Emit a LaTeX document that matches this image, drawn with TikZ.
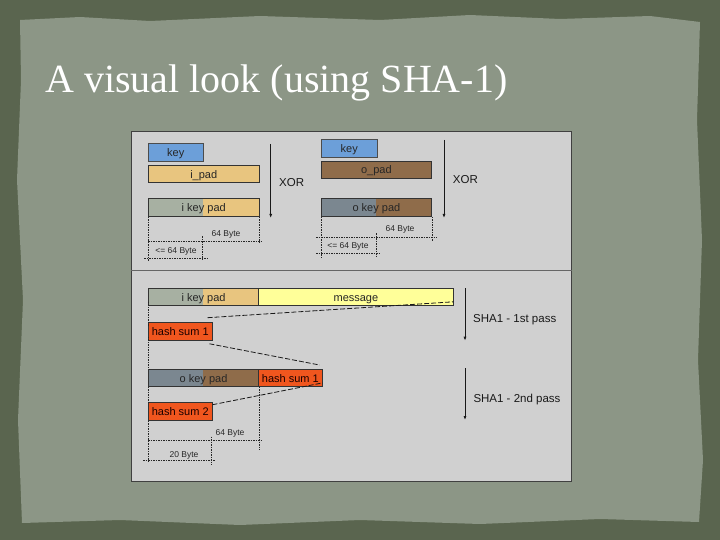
\documentclass[tikz,border=0pt]{standalone}
\usepackage{fontspec}
\setmainfont{Liberation Sans}
\newfontfamily\titlefont{Liberation Serif}
\usetikzlibrary{arrows.meta}
\definecolor{bgdark}{HTML}{5A654F}
\definecolor{paper}{HTML}{8C9686}
\definecolor{panel}{HTML}{D0D0D0}
\definecolor{keyblue}{HTML}{6C9FD9}
\definecolor{ipadtan}{HTML}{E8C57F}
\definecolor{opadbrown}{HTML}{8F6C4A}
\definecolor{ikgrey}{HTML}{A7B0A2}
\definecolor{okgrey}{HTML}{7B8790}
\definecolor{msgyellow}{HTML}{FFFF99}
\definecolor{hashred}{HTML}{F0561E}
\tikzset{
  box/.style={draw=black!80, line width=0.8pt, anchor=north west, inner sep=0pt,
    text height=8.5pt, text depth=0pt,
    font=\fontsize{11}{11}\selectfont, text=black!85},
  dimline/.style={draw=black!85, line width=0.6pt, dash pattern=on 1.5pt off 1pt},
  hashline/.style={draw=black!90, line width=0.8pt, dash pattern=on 5pt off 2pt},
  passarrow/.style={draw=black!90, line width=0.8pt, -{Latex[length=4pt,width=3pt]}},
  dimlabel/.style={font=\fontsize{8.5}{8.5}\selectfont, text=black!85, inner sep=0pt},
  sidelabel/.style={font=\fontsize{11.5}{11.5}\selectfont, text=black!90, inner sep=0pt, anchor=west},
}
\begin{document}
\begin{tikzpicture}[x=1pt,y=-1pt]
\useasboundingbox (0,0) rectangle (720,540);
% background
\fill[bgdark] (0,0) rectangle (720,540);
\fill[paper] (20,20) -- (80,17) -- (150,21) -- (260,16) -- (380,20) -- (470,15) -- (560,19) -- (650,16) -- (700,22)
  -- (697,120) -- (702,240) -- (698,360) -- (703,460) -- (699,522)
  -- (600,519) -- (480,524) -- (360,520) -- (240,525) -- (120,520) -- (22,523)
  -- (18,420) -- (23,300) -- (17,180) -- (21,80) -- cycle;
% title
\node[anchor=base west, inner sep=0pt, text=white, font=\titlefont\fontsize{40}{40}\selectfont] (title) at (45,93) {A visual look (using SHA-1)};
% panel
\node[draw=black!75, line width=1pt, fill=panel, anchor=north west, minimum width=440pt, minimum height=350pt, inner sep=0pt] (panel) at (131,131) {};
\draw[black!60, line width=1pt] (panel.west |- 0,270) coordinate (sepL) -- (panel.east |- 0,270) coordinate (sepR);

% ---- top left: inner key pad
\node[box, draw=black!70, fill=keyblue, minimum width=55.8pt, minimum height=17.4pt] (key1) at (147.5,143.3) {key};
\node[box, fill=ipadtan, minimum width=110.7pt, minimum height=17.3pt] (ipad) at (148,165) {i\_pad};
\node[box, fill=ipadtan, minimum width=110.7pt, minimum height=17.7pt,
  path picture={\fill[ikgrey] (path picture bounding box.south west) rectangle ([xshift=54.7pt]path picture bounding box.north west);}]
  (ikp1) at (148,198.3) {i key pad};
\coordinate (xa1) at (270.7,144);
\coordinate (xb1) at (270.7,218);
\draw[passarrow] (xa1) -- (xb1);
\node[sidelabel] (xor1) at (279,182.7) {XOR};
\draw[dimline] (ikp1.south west) -- ++(0,44);
\draw[dimline] (ikp1.south east) -- ++(0,27.3);
\draw[dimline] (202.7,236) coordinate (d1a) -- (202.7,260) coordinate (d1b);
\draw[dimline] (148,241) coordinate (d1c) -- (262,241) coordinate (d1d);
\draw[dimline] (144,258.3) coordinate (d1e) -- (207,258.3) coordinate (d1f);
\node[dimlabel] (l1a) at (226,234.3) {64 Byte};
\node[dimlabel] (l1b) at (176,251) {<= 64 Byte};

% ---- top right: outer key pad
\node[box, draw=black!70, fill=keyblue, minimum width=55.7pt, minimum height=17.4pt] (key2) at (321,139.3) {key};
\node[box, fill=opadbrown, minimum width=110pt, minimum height=17pt] (opad) at (321,160.7) {o\_pad};
\node[box, fill=opadbrown, minimum width=110pt, minimum height=17.7pt,
  path picture={\fill[okgrey] (path picture bounding box.south west) rectangle ([xshift=55pt]path picture bounding box.north west);}]
  (okp1) at (321,198.3) {o key pad};
\coordinate (xa2) at (444,140);
\coordinate (xb2) at (444,218);
\draw[passarrow] (xa2) -- (xb2);
\node[sidelabel] (xor2) at (452.7,179.3) {XOR};
\draw[dimline] (okp1.south west) -- ++(0,40.7);
\draw[dimline] (okp1.south east) -- ++(0,24);
\draw[dimline] (376.7,233) coordinate (d2a) -- (376.7,256) coordinate (d2b);
\draw[dimline] (316,237.3) coordinate (d2c) -- (437,237.3) coordinate (d2d);
\draw[dimline] (316,253.3) coordinate (d2e) -- (380,253.3) coordinate (d2f);
\node[dimlabel] (l2a) at (400,229) {64 Byte};
\node[dimlabel] (l2b) at (348,246) {<= 64 Byte};

% ---- first pass
\node[box, fill=ipadtan, minimum width=110.3pt, minimum height=16.7pt,
  path picture={\fill[ikgrey] (path picture bounding box.south west) rectangle ([xshift=54.7pt]path picture bounding box.north west);}]
  (ikp2) at (148,288.3) {i key pad};
\node[box, fill=msgyellow, minimum width=194.4pt, minimum height=16.7pt] (msg) at (258.3,288.3) {message};
\node[box, fill=hashred, minimum width=63.7pt, minimum height=18.3pt, text=black!90!red] (hs1) at (148,321.7) {hash sum 1};
\draw[hashline] ([shift={(-5,-4)}]hs1.north east) -- ([yshift=4pt]msg.south east);
\draw[dimline] ([yshift=4pt]ikp2.south west) -- ([yshift=-5pt]hs1.north west);
\draw[dimline] ([yshift=4pt]hs1.south west) -- ([yshift=-7pt]hs1.south west |- 0,369);
\coordinate (pa1) at (465,288.3);
\coordinate (pb1) at (465,340.7);
\draw[passarrow] (pa1) -- (pb1);
\node[sidelabel] (sha1) at (473,320) {SHA1 - 1st pass};

% ---- second pass
\node[box, fill=opadbrown, minimum width=110.3pt, minimum height=16.7pt,
  path picture={\fill[okgrey] (path picture bounding box.south west) rectangle ([xshift=54.7pt]path picture bounding box.north west);}]
  (okp2) at (148,369) {o key pad};
\node[box, fill=hashred, minimum width=63.4pt, minimum height=16.7pt, text=black!90!red] (hs1b) at (258.3,369) {hash sum 1};
\node[box, fill=hashred, minimum width=63.7pt, minimum height=18.3pt, text=black!90!red] (hs2) at (148,401.7) {hash sum 2};
\draw[hashline] ([shift={(-3,3)}]hs1.south east) -- ([shift={(-3,-4)}]hs1b.north east);
\draw[hashline] ([yshift=-3pt]hs2.north east) -- ([yshift=3.6pt]hs1b.south east);
\draw[dimline] (okp2.south west) -- (hs2.north west);
\draw[dimline] (hs2.south west) -- ++(0,41.7);
\draw[dimline] (okp2.south east) -- ++(0,62.6);
\draw[dimline] (211.7,436.7) coordinate (d3a) -- (211.7,465) coordinate (d3b);
\draw[dimline] (148,440) coordinate (d3c) -- (262,440) coordinate (d3d);
\draw[dimline] (143,460) coordinate (d3e) -- (215,460) coordinate (d3f);
\node[dimlabel] (l3a) at (230,433.3) {64 Byte};
\node[dimlabel] (l3b) at (184,455) {20 Byte};
\coordinate (pa2) at (465,368.3);
\coordinate (pb2) at (465,420);
\draw[passarrow] (pa2) -- (pb2);
\node[sidelabel] (sha2) at (473.3,399.3) {SHA1 - 2nd pass};
\end{tikzpicture}
\end{document}
